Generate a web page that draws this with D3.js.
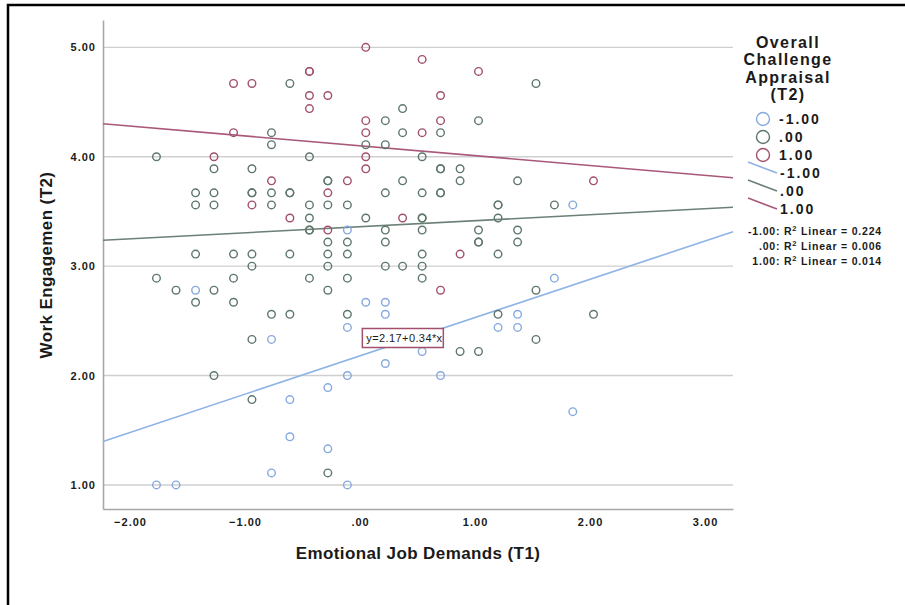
<!DOCTYPE html>
<html>
<head>
<meta charset="utf-8">
<script src="https://cdn.jsdelivr.net/npm/d3@7"></script>
<style>
  html, body { margin: 0; padding: 0; background: #fff; }
  svg text { font-family: "Liberation Sans", Arial, sans-serif; fill: #1a1a1a; }
</style>
</head>
<body>
<div id="chart"></div>
<script>
// data: [emotional job demands, work engagement]
const appraisalLow = [
    [1.85, 3.56], [-0.11, 3.33], [1.69, 2.89], [-1.43, 2.78], [0.05, 2.67], [0.22, 2.67],
    [0.22, 2.56], [1.37, 2.56], [-0.11, 2.44], [1.20, 2.44], [1.37, 2.44], [-0.77, 2.33],
    [0.54, 2.22], [0.22, 2.11], [-0.11, 2.00], [0.70, 2.00], [-0.28, 1.89], [-0.61, 1.78],
    [1.85, 1.67], [-0.61, 1.44], [-0.28, 1.33], [-0.77, 1.11], [-1.77, 1.00], [-1.60, 1.00],
    [-0.11, 1.00]
];
const appraisalMid = [
    [-0.61, 4.67], [1.53, 4.67], [0.37, 4.44], [0.22, 4.33], [1.03, 4.33],
    [-0.77, 4.22], [0.37, 4.22], [0.70, 4.22], [-0.77, 4.11], [0.05, 4.11], [0.22, 4.11],
    [-1.77, 4.00], [-0.44, 4.00], [0.54, 4.00],
    [-1.27, 3.89], [-0.94, 3.89], [0.70, 3.89], [0.70, 3.89], [0.87, 3.89],
    [-0.28, 3.78], [-0.28, 3.78], [0.37, 3.78], [0.87, 3.78], [1.37, 3.78],
    [-1.43, 3.67], [-1.27, 3.67], [-0.94, 3.67], [-0.94, 3.67], [-0.77, 3.67], [-0.61, 3.67],
    [-0.61, 3.67], [0.22, 3.67], [0.54, 3.67], [0.70, 3.67], [0.70, 3.67],
    [-1.43, 3.56], [-1.27, 3.56], [-0.77, 3.56], [-0.44, 3.56], [-0.28, 3.56], [-0.11, 3.56],
    [1.20, 3.56], [1.20, 3.56], [1.69, 3.56],
    [-0.44, 3.44], [0.05, 3.44], [0.54, 3.44], [0.54, 3.44], [1.20, 3.44],
    [-0.44, 3.33], [-0.44, 3.33], [0.22, 3.33], [0.54, 3.33], [1.03, 3.33], [1.37, 3.33],
    [-0.28, 3.22], [-0.11, 3.22], [0.22, 3.22], [1.03, 3.22], [1.03, 3.22], [1.37, 3.22],
    [-1.43, 3.11], [-1.10, 3.11], [-0.94, 3.11], [-0.61, 3.11], [-0.28, 3.11], [-0.11, 3.11],
    [0.54, 3.11], [1.20, 3.11],
    [-0.94, 3.00], [-0.28, 3.00], [0.22, 3.00], [0.37, 3.00], [0.54, 3.00],
    [-1.77, 2.89], [-1.10, 2.89], [-0.44, 2.89], [-0.11, 2.89], [0.54, 2.89],
    [-1.60, 2.78], [-1.27, 2.78], [-0.28, 2.78], [1.53, 2.78],
    [-1.43, 2.67], [-1.10, 2.67],
    [-0.77, 2.56], [-0.61, 2.56], [-0.11, 2.56], [1.20, 2.56], [2.03, 2.56],
    [-0.94, 2.33], [1.53, 2.33], [0.87, 2.22], [1.03, 2.22],
    [-1.27, 2.00], [-0.94, 1.78], [-0.28, 1.11]
];
const appraisalHigh = [
    [0.05, 5.00], [0.54, 4.89], [-0.44, 4.78], [-0.44, 4.78], [1.03, 4.78],
    [-1.10, 4.67], [-0.94, 4.67], [-0.44, 4.56], [-0.28, 4.56], [0.70, 4.56],
    [-0.44, 4.44], [0.05, 4.33], [0.70, 4.33], [-1.10, 4.22], [0.05, 4.22], [0.54, 4.22],
    [-1.27, 4.00], [0.05, 4.00], [0.05, 3.89], [-0.77, 3.78], [-0.11, 3.78], [2.03, 3.78],
    [-0.28, 3.67], [-0.94, 3.56], [-0.61, 3.44], [0.37, 3.44], [-0.28, 3.33], [0.87, 3.11],
    [0.70, 2.78]
];

const groupLabels = ["-1.00", ".00", "1.00"];
const fitCoefs = [[2.18, 0.35], [3.36, 0.055], [4.10, -0.09]];   // intercept, slope
const rSquared = ["0.224", "0.006", "0.014"];
const xTicks = [-2, -1, 0, 1, 2, 3];
const yTicks = [1, 2, 3, 4, 5];
const eqLabel = "y=2.17+0.34*x";
const eqLabelAt = [0.02, 2.43];

const width = 905, height = 605;
const pointColors = ["#86a9df", "#5e776b", "#a24f6d"];
const lineColors = ["#8fb2e6", "#6b8176", "#a9587a"];

const svg = d3.select("#chart").append("svg")
    .attr("width", width)
    .attr("height", height);

// frame (top and left edge)
svg.append("path")
    .attr("d", `M8,${height} L8,5 L${width},5`)
    .attr("fill", "none")
    .attr("stroke", "#000")
    .attr("stroke-width", 2.5);

const x = d3.scaleLinear().domain([-2.235, 3.243]).range([103, 733]);
const y = d3.scaleLinear().domain([0.78, 5.25]).range([509, 20]);

const fmt = v => d3.format(".2f")(v).replace(/^0\./, ".").replace(/^-0\./, "-.");

// grid lines
svg.append("g")
    .selectAll("line")
    .data(yTicks)
    .enter().append("line")
    .attr("x1", x.range()[0])
    .attr("x2", x.range()[1])
    .attr("y1", d => y(d))
    .attr("y2", d => y(d))
    .attr("stroke", "#cfcfcf")
    .attr("stroke-width", 1.4);

const yAxis = svg.append("g")
    .attr("transform", `translate(${x.range()[0]},0)`)
    .call(d3.axisLeft(y).tickValues(yTicks).tickFormat(fmt).tickSize(0).tickPadding(7));

const xAxis = svg.append("g")
    .attr("transform", `translate(0,${y.range()[0]})`)
    .call(d3.axisBottom(x).tickValues(xTicks).tickFormat(fmt).tickSize(0).tickPadding(9));

[yAxis, xAxis].forEach(ax => {
    ax.select(".domain").attr("stroke", "#a8a8a8").attr("stroke-width", 1.6);
    ax.selectAll("text")
        .style("font-size", "11px")
        .style("font-weight", "bold")
        .style("letter-spacing", "1px")
        .attr("fill", "#1a1a1a");
});

// axis titles
svg.append("text")
    .attr("x", (x.range()[0] + x.range()[1]) / 2)
    .attr("y", 559)
    .attr("text-anchor", "middle")
    .style("font-size", "17px")
    .style("font-weight", "bold")
    .style("letter-spacing", "0.4px")
    .text("Emotional Job Demands (T1)");

svg.append("text")
    .attr("transform", "translate(52,265) rotate(-90)")
    .attr("text-anchor", "middle")
    .style("font-size", "17px")
    .style("font-weight", "bold")
    .style("letter-spacing", "0.4px")
    .text("Work Engagemen (T2)");

// fit lines
const line = d3.line().x(d => x(d[0])).y(d => y(d[1]));
fitCoefs.forEach((c, i) => {
    const pts = x.domain().map(v => [v, c[0] + c[1] * v]);
    svg.append("path")
        .attr("d", line(pts))
        .attr("fill", "none")
        .attr("stroke", lineColors[i])
        .attr("stroke-width", 1.6);
});

// points
[appraisalLow, appraisalMid, appraisalHigh].forEach((pts, i) => {
    svg.append("g")
        .selectAll("circle")
        .data(pts)
        .enter().append("circle")
        .attr("cx", d => x(d[0]))
        .attr("cy", d => y(d[1]))
        .attr("r", 3.8)
        .attr("fill", "none")
        .attr("stroke", pointColors[i])
        .attr("stroke-width", 1.4);
});

// equation label
const eq = svg.append("g")
    .attr("transform", `translate(${x(eqLabelAt[0])},${y(eqLabelAt[1])})`);
eq.append("rect")
    .attr("width", 81)
    .attr("height", 19)
    .attr("fill", "#fff")
    .attr("stroke", "#a24f6d")
    .attr("stroke-width", 1.5);
eq.append("text")
    .attr("x", 4)
    .attr("y", 14)
    .style("font-size", "11px")
    .style("letter-spacing", "0.4px")
    .text(eqLabel);

// legend
const legend = svg.append("g");
["Overall", "Challenge", "Appraisal", "(T2)"].forEach((t, i) => {
    legend.append("text")
        .attr("x", 788)
        .attr("y", 48 + i * 17.3)
        .attr("text-anchor", "middle")
        .style("font-size", "16px")
        .style("font-weight", "bold")
        .style("letter-spacing", "1.4px")
        .text(t);
});

groupLabels.forEach((lab, i) => {
    const cy = 119 + i * 18;
    legend.append("circle")
        .attr("cx", 763)
        .attr("cy", cy)
        .attr("r", 6.5)
        .attr("fill", "none")
        .attr("stroke", pointColors[i])
        .attr("stroke-width", 1.4);
    legend.append("text")
        .attr("x", 779)
        .attr("y", cy + 5)
        .style("font-size", "14px")
        .style("font-weight", "bold")
        .style("letter-spacing", "2px")
        .text(lab);
});

groupLabels.forEach((lab, i) => {
    const cy = 173 + i * 18;
    legend.append("line")
        .attr("x1", 748).attr("y1", cy - 11)
        .attr("x2", 777).attr("y2", cy)
        .attr("stroke", lineColors[i])
        .attr("stroke-width", 1.6);
    legend.append("text")
        .attr("x", 780)
        .attr("y", cy + 5)
        .style("font-size", "14px")
        .style("font-weight", "bold")
        .style("letter-spacing", "2px")
        .text(lab);
});

groupLabels.forEach((lab, i) => {
    const t = legend.append("text")
        .attr("x", 882)
        .attr("y", 235 + i * 15)
        .attr("text-anchor", "end")
        .style("font-size", "10.5px")
        .style("font-weight", "bold")
        .style("letter-spacing", "0.8px");
    t.append("tspan").text(lab + ": R");
    t.append("tspan").attr("dy", -4).style("font-size", "7.5px").text("2");
    t.append("tspan").attr("dy", 4).text(" Linear = " + rSquared[i]);
});
</script>
</body>
</html>
